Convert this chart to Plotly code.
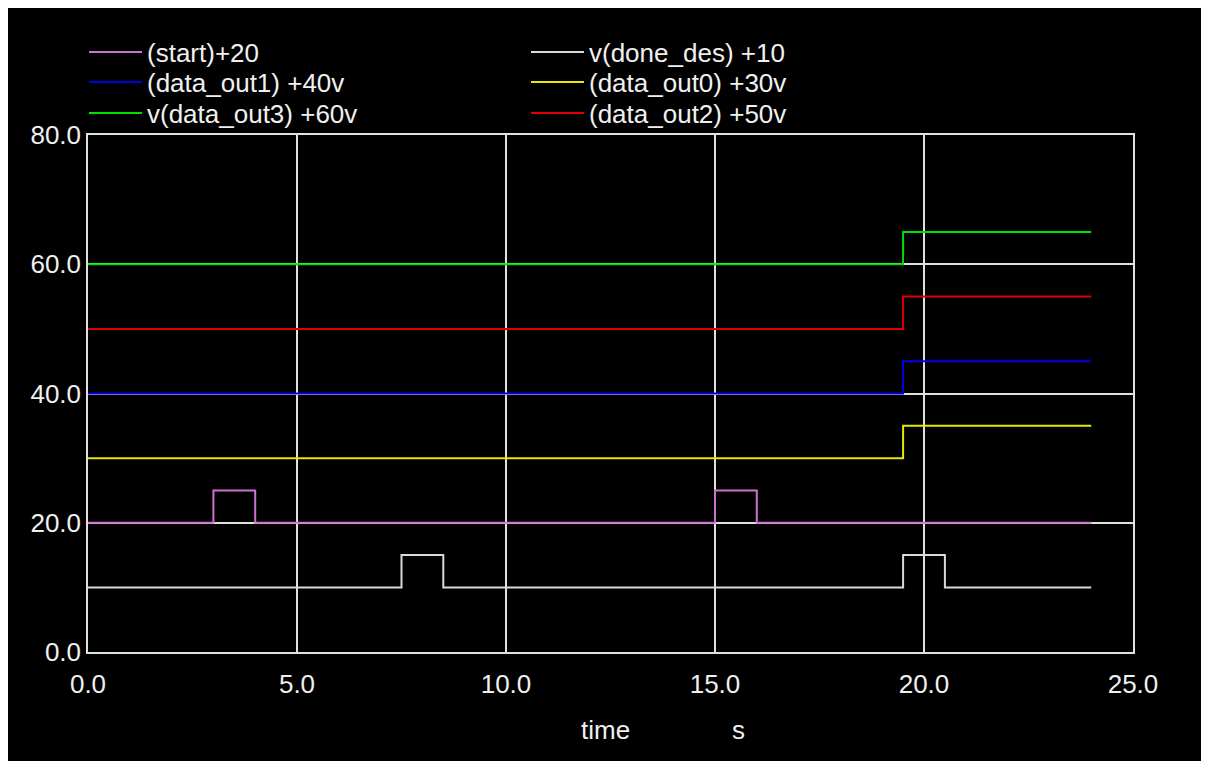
import plotly.graph_objects as go

# ---- data ----
start_t = [0, 3.0, 4.0, 15.0, 16.0, 24.0]
start_v = [20, 25, 20, 25, 20, 20]

done_t = [0, 7.5, 8.5, 19.5, 20.5, 24.0]
done_v = [10, 15, 10, 15, 10, 10]

out_t = [0, 19.5, 24.0]
out0_v = [30, 35, 35]
out1_v = [40, 45, 45]
out2_v = [50, 55, 55]
out3_v = [60, 65, 65]

x_ticks = [0, 5, 10, 15, 20, 25]
x_tick_labels = ["0.0", "5.0", "10.0", "15.0", "20.0", "25.0"]
y_ticks = [0, 20, 40, 60, 80]
y_tick_labels = ["0.0", "20.0", "40.0", "60.0", "80.0"]

FONT = "Liberation Sans, Arial, sans-serif"
FS = 26
TXT = "#f0f0f0"
GRID = "#e0e0e0"

# the page body margin (8px) offsets the figure; coordinates below are figure pixels
W, H = 1209, 761
L, T = 80, 127
PW, PH = 1045, 517
R, B = W - L - PW, H - T - PH

def px_x(p):
    return (p - L) / PW

def px_y(p):
    return (T + PH - p) / PH

series = [
    ("(start)+20", start_t, start_v, "#d070d0", "legend"),
    ("v(done_des) +10", done_t, done_v, "#d4dcdc", "legend"),
    ("(data_out1) +40v", out_t, out1_v, "#0000e8", "legend2"),
    ("(data_out0) +30v", out_t, out0_v, "#e8e800", "legend2"),
    ("v(data_out3) +60v", out_t, out3_v, "#00e000", "legend3"),
    ("(data_out2) +50v", out_t, out2_v, "#e00000", "legend3"),
]

fig = go.Figure()
for name, t, v, c, lg in series:
    fig.add_trace(go.Scatter(x=t, y=v, mode="lines", name=name, legend=lg,
                             line=dict(color=c, width=2, shape="hv")))

def legend_row(center_y):
    return dict(orientation="h", x=px_x(76), xanchor="left",
                y=px_y(center_y), yanchor="middle",
                bgcolor="rgba(0,0,0,0)", font=dict(size=FS, color=TXT, family=FONT),
                entrywidth=374, entrywidthmode="pixels", itemwidth=53,
                traceorder="normal")

axis_common = dict(showgrid=True, gridcolor=GRID, gridwidth=1.5,
                   zeroline=False, showline=True, linecolor=GRID, linewidth=1.5,
                   mirror=True, ticks="", tickfont=dict(size=FS, color=TXT, family=FONT))

fig.update_layout(
    width=W, height=H,
    margin=dict(l=L, r=R, t=T, b=B, pad=0),
    paper_bgcolor="black", plot_bgcolor="black",
    font=dict(family=FONT, size=FS, color=TXT),
    showlegend=True,
    legend=legend_row(44),
    legend2=legend_row(74),
    legend3=legend_row(105),
    xaxis=dict(range=[0, 25], tickvals=x_ticks, ticktext=x_tick_labels,
               ticklabelstandoff=8, **axis_common),
    yaxis=dict(range=[0, 80], tickvals=y_ticks, ticktext=y_tick_labels,
               **axis_common),
    annotations=[
        dict(text="time", xref="paper", yref="paper", x=px_x(597), y=px_y(722),
             xanchor="center", yanchor="middle", showarrow=False,
             font=dict(size=FS, color=TXT, family=FONT)),
        dict(text="s", xref="paper", yref="paper", x=px_x(730), y=px_y(722),
             xanchor="center", yanchor="middle", showarrow=False,
             font=dict(size=FS, color=TXT, family=FONT)),
    ],
)

fig.write_html("out.html", config={"displayModeBar": False})
